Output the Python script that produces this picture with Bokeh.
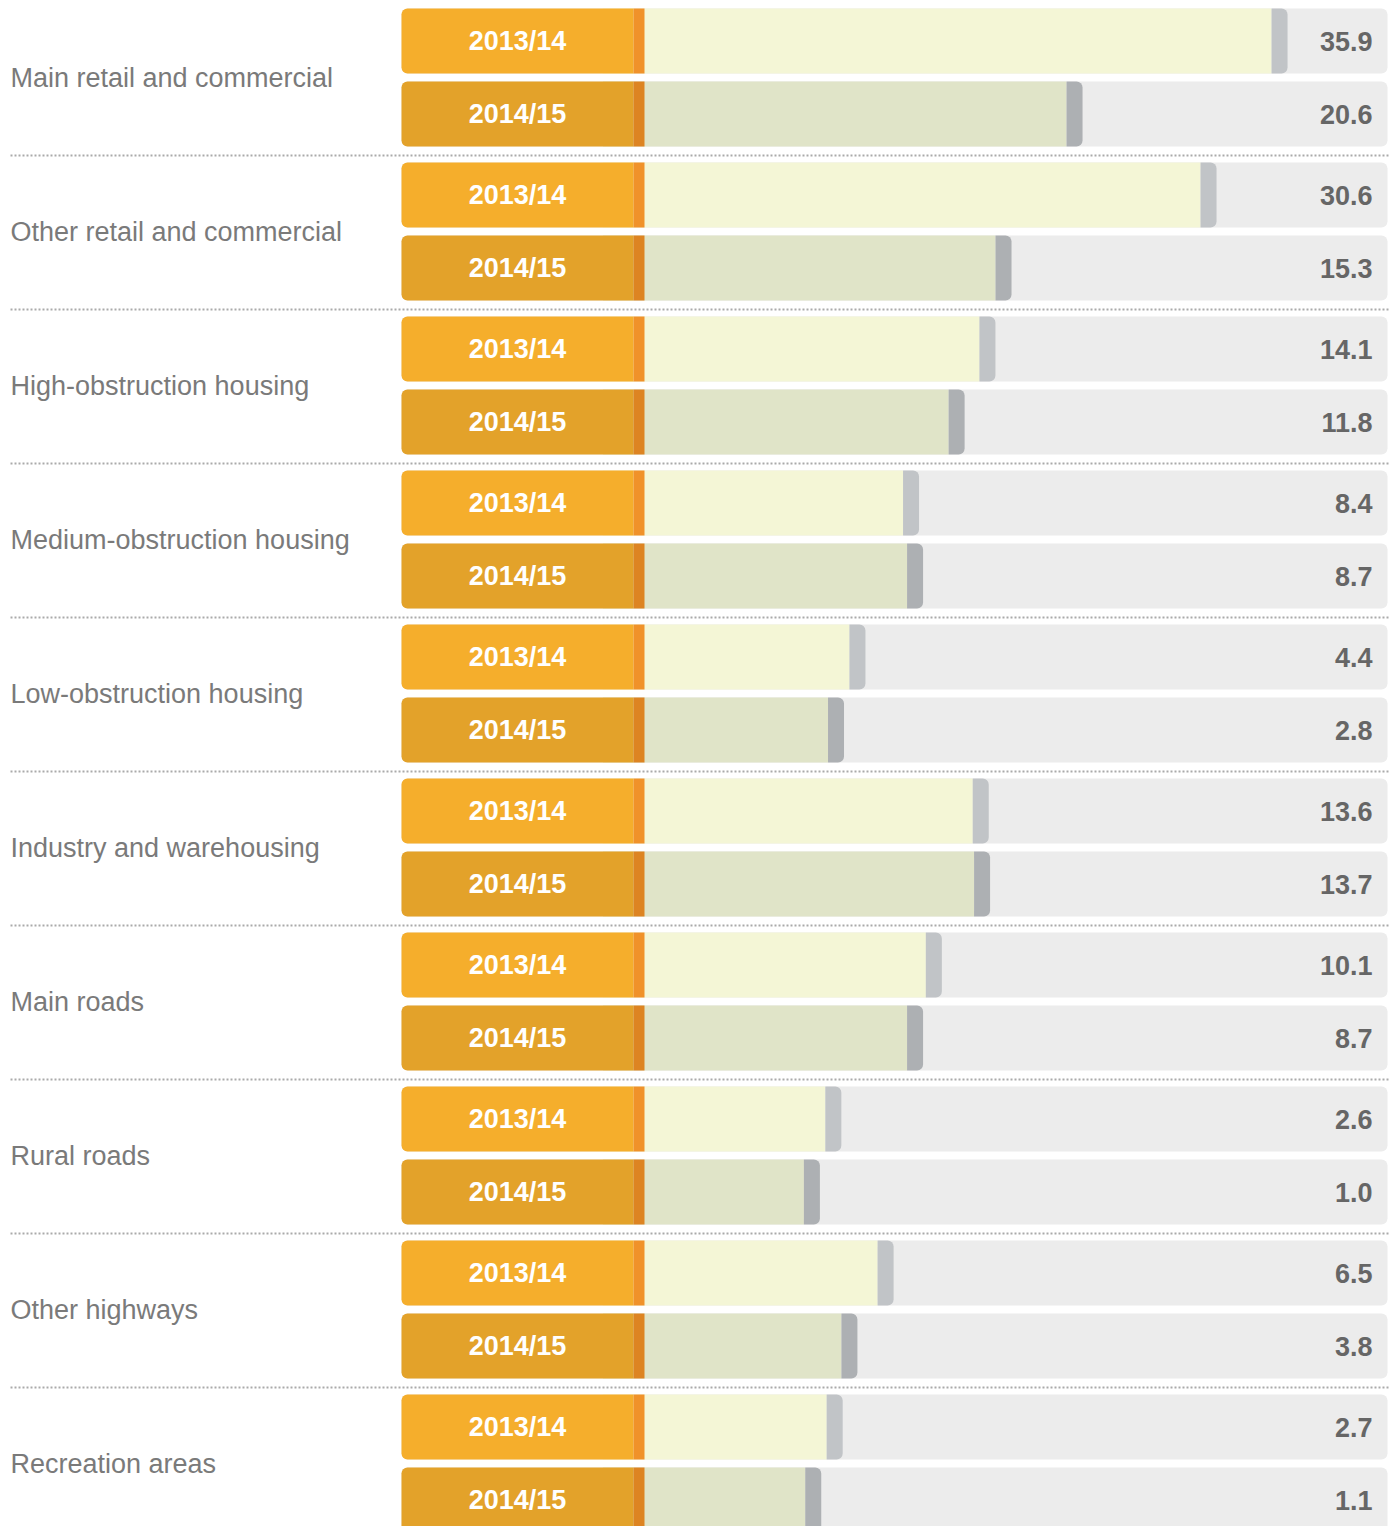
from bokeh.plotting import figure
from bokeh.models import Range1d, ColumnDataSource
from bokeh.core.properties import value
from bokeh.embed import file_html
from bokeh.resources import INLINE

categories = [
    "Main retail and commercial",
    "Other retail and commercial",
    "High-obstruction housing",
    "Medium-obstruction housing",
    "Low-obstruction housing",
    "Industry and warehousing",
    "Main roads",
    "Rural roads",
    "Other highways",
    "Recreation areas",
]
years = ["2013/14", "2014/15"]
values_1314 = [35.9, 30.6, 14.1, 8.4, 4.4, 13.6, 10.1, 2.6, 6.5, 2.7]
values_1415 = [20.6, 15.3, 11.8, 8.7, 2.8, 13.7, 8.7, 1.0, 3.8, 1.1]

# layout constants (page-pixel coordinate system)
X0, X1, Y0, Y1 = 0, 1394, 0, 1526
TOP0 = 8
PITCH, ROWSTEP, BARH = 154.0, 73.0, 65.0
BOX_L, BOX_R, STRIP_R, TRACK_R = 401, 633, 644, 1387
ZERO_PX, PX_PER_UNIT = 790.0, 13.4
CAP_PX = 16

box_col = ["#f5ae2c", "#e3a22a"]
strip_col = ["#f0922a", "#dd8422"]
bar_col = ["#f4f6d6", "#e0e4c8"]
cap_col = ["#c1c4c7", "#adb0b3"]

p = figure(width=X1 - X0, height=Y1 - Y0, output_backend="svg", toolbar_location=None,
           x_range=Range1d(X0, X1), y_range=Range1d(Y1, Y0), min_border=0)
p.extra_x_ranges = {"val": Range1d((X0 - ZERO_PX) / PX_PER_UNIT, (X1 - ZERO_PX) / PX_PER_UNIT)}
p.axis.visible = False
p.grid.visible = False
p.outline_line_color = None
p.background_fill_color = "white"
p.border_fill_color = "white"

rows = {k: [] for k in ["top", "bottom", "mid", "year", "val", "vtxt", "box", "strip", "bar", "cap", "capr"]}
for i, cat in enumerate(categories):
    for j, vals in enumerate([values_1314, values_1415]):
        top = TOP0 + PITCH * i + ROWSTEP * j
        v = vals[i]
        rows["top"].append(top)
        rows["bottom"].append(top + BARH)
        rows["mid"].append(top + BARH / 2)
        rows["year"].append(years[j])
        rows["val"].append(v)
        rows["vtxt"].append(f"{v:.1f}")
        rows["box"].append(box_col[j])
        rows["strip"].append(strip_col[j])
        rows["bar"].append(bar_col[j])
        rows["cap"].append(cap_col[j])
        rows["capr"].append(v + CAP_PX / PX_PER_UNIT)
src = ColumnDataSource(rows)

# background track
p.quad(left=BOX_L, right=TRACK_R, top="top", bottom="bottom", source=src,
       fill_color="#ececec", line_color=None, border_radius=6)
# value bar (left end hidden under the label box)
p.quad(left=-14, right="val", top="top", bottom="bottom", source=src,
       fill_color="bar", line_color=None, x_range_name="val")
p.quad(left="val", right="capr", top="top", bottom="bottom", source=src,
       fill_color="cap", line_color=None, x_range_name="val", border_radius=(0, 6, 6, 0))
# year box
p.quad(left=BOX_L, right=BOX_R, top="top", bottom="bottom", source=src,
       fill_color="box", line_color=None, border_radius=(6, 0, 0, 6))
p.quad(left=BOX_R, right=STRIP_R, top="top", bottom="bottom", source=src,
       fill_color="strip", line_color=None)
p.text(x=(BOX_L + BOX_R) / 2, y="mid", text="year", source=src, text_color="white",
       text_font=value("Liberation Sans"), text_font_style="bold", text_font_size="27px",
       text_align="center", text_baseline="middle")
p.text(x=1372, y="mid", text="vtxt", source=src, text_color="#666666",
       text_font=value("Liberation Sans"), text_font_style="bold", text_font_size="27px",
       text_align="right", text_baseline="middle")

# category labels and separators
cat_src = ColumnDataSource(dict(
    cat=categories,
    y=[TOP0 + PITCH * i + (ROWSTEP + BARH) / 2 for i in range(len(categories))],
))
p.text(x=10, y="y", text="cat", source=cat_src, text_color="#7a7a7a",
       text_font=value("Liberation Sans"), text_font_size="27px",
       text_align="left", text_baseline="middle")
sep_src = ColumnDataSource(dict(y=[TOP0 + PITCH * i - 7 for i in range(1, len(categories))]))
p.segment(x0=10, x1=1390, y0="y", y1="y", source=sep_src, line_color="#aaaaaa",
          line_width=2, line_dash=value([2, 2]))

open("out.html", "w").write(file_html(p, INLINE))
